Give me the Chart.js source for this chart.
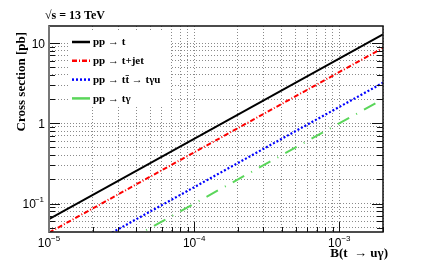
<!DOCTYPE html>
<html>
<head>
<meta charset="utf-8">
<script src="https://cdn.jsdelivr.net/npm/chart.js@4/dist/chart.umd.min.js"></script>
<style>
  html, body { margin: 0; padding: 0; background: #fff; }
  #wrap { width: 426px; height: 263px; }
</style>
</head>
<body>
<div id="wrap"><canvas id="xsec" width="426" height="263"></canvas></div>
<script>
// Branching ratio B(t -> u gamma), end points of each curve
const bValues = [1e-5, 2e-3];

// Cross sections in pb at those end points
const sigmaT = [0.064, 12.8];
const sigmaTJet = [0.0435, 8.7];
const sigmaTTbar = [0.016, 3.2];
const sigmaTGamma = [0.010, 2.0];

const seriesLabels = ['pp \u2192 t', 'pp \u2192 t+jet', 'pp \u2192 tt\u0304 \u2192 t\u03b3u', 'pp \u2192 t\u03b3'];

// Axis ticks
const xMajor = [1e-5, 1e-4, 1e-3];
const xMajorExp = ['\u22125', '\u22124', '\u22123'];
const yMajor = [0.1, 1, 10];
const yMajorBase = ['10', '1', '10'];
const yMajorExp = ['\u22121', '', ''];
const mults = [1, 2, 3, 4, 5, 6, 7, 8, 9];

const xRange = [1e-5, 2e-3];
const yRange = [0.0443, 16.3];

const xTicks = [];
[1e-5, 1e-4, 1e-3].forEach(d => mults.forEach(m => {
  const v = +(m * d).toPrecision(3);
  if (v >= xRange[0] && v <= xRange[1]) xTicks.push(v);
}));
const yTicks = [];
[0.01, 0.1, 1, 10].forEach(d => mults.forEach(m => {
  const v = +(m * d).toPrecision(3);
  if (v >= yRange[0] && v <= yRange[1]) yTicks.push(v);
}));
const isMajor = (v, list) => list.some(m => Math.abs(v / m - 1) < 1e-6);

const SERIF = '"Liberation Serif", "DejaVu Serif", serif';
const SANS = '"Liberation Sans", Arial, sans-serif';

function series(label, values, color, dash, width) {
  return {
    label: label,
    data: bValues.map((b, i) => ({ x: b, y: values[i] })),
    borderColor: color,
    backgroundColor: color,
    borderWidth: width,
    borderDash: dash,
    pointRadius: 0,
    fill: false,
    tension: 0
  };
}

// Frame, inner ticks, tick labels, titles and the boxed legend
const decorations = {
  id: 'decorations',
  afterDatasetsDraw(chart) {
    const ctx = chart.ctx;
    // legend box
    ctx.save();
    ctx.fillStyle = '#fff';
    ctx.fillRect(68, 32, 102, 74);
    chart.data.datasets.forEach((ds, i) => {
      const y = 42 + i * 18.8;
      ctx.beginPath();
      ctx.strokeStyle = ds.borderColor;
      ctx.lineWidth = 2.5;
      ctx.setLineDash(i === 3 ? [] : ds.borderDash);
      ctx.moveTo(72, y);
      ctx.lineTo(90, y);
      ctx.stroke();
      ctx.setLineDash([]);
      ctx.fillStyle = '#000';
      ctx.font = 'bold 11px ' + SERIF;
      ctx.textAlign = 'left';
      ctx.textBaseline = 'middle';
      ctx.fillText(seriesLabels[i], 93, y + 0.5);
    });
    ctx.restore();
  },
  afterDraw(chart) {
    const ctx = chart.ctx;
    const a = chart.chartArea;
    const xs = chart.scales.x, ys = chart.scales.y;
    ctx.save();
    // inner ticks
    ctx.strokeStyle = '#111';
    ctx.lineWidth = 1;
    ctx.beginPath();
    yTicks.forEach(v => {
      const p = Math.round(ys.getPixelForValue(v)) + 0.5;
      const len = isMajor(v, yMajor) ? 11 : 6;
      ctx.moveTo(a.left, p); ctx.lineTo(a.left + len, p);
      ctx.moveTo(a.right, p); ctx.lineTo(a.right - len, p);
    });
    xTicks.forEach(v => {
      const p = Math.round(xs.getPixelForValue(v)) + 0.5;
      const len = isMajor(v, xMajor) ? 10 : 5;
      ctx.moveTo(p, a.bottom); ctx.lineTo(p, a.bottom - len);
    });
    ctx.stroke();
    // frame
    ctx.strokeStyle = '#111';
    ctx.lineWidth = 1.5;
    ctx.strokeRect(a.left, a.top, a.right - a.left, a.bottom - a.top);
    ctx.strokeStyle = '#777';
    ctx.lineWidth = 2;
    ctx.beginPath();
    ctx.moveTo(a.left, a.top); ctx.lineTo(a.left, a.bottom);
    ctx.stroke();

    // tick labels
    ctx.fillStyle = '#000';
    ctx.textBaseline = 'alphabetic';
    yMajor.forEach((v, i) => {
      const p = ys.getPixelForValue(v);
      ctx.font = '8px ' + SANS;
      const ew = yMajorExp[i] ? ctx.measureText(yMajorExp[i]).width : 0;
      ctx.textAlign = 'right';
      ctx.fillText(yMajorExp[i], 44, p - 2);
      ctx.font = '12px ' + SANS;
      ctx.fillText(yMajorBase[i], 45 - ew, p + 4.5);
    });
    xMajor.forEach((v, i) => {
      const p = xs.getPixelForValue(v);
      ctx.font = '12px ' + SANS;
      const bw = ctx.measureText('10').width;
      ctx.font = '8px ' + SANS;
      const ew = ctx.measureText(xMajorExp[i]).width;
      const x0 = p - (bw + ew) / 2;
      ctx.textAlign = 'left';
      ctx.font = '12px ' + SANS;
      ctx.fillText('10', x0, 247);
      ctx.font = '8px ' + SANS;
      ctx.fillText(xMajorExp[i], x0 + bw, 240.5);
    });

    // titles
    ctx.font = 'bold 12px ' + SERIF;
    ctx.textAlign = 'left';
    ctx.fillText('\u221As = 13 TeV', 45, 19);
    ctx.font = 'bold 13px ' + SERIF;
    ctx.textAlign = 'right';
    ctx.fillText('B(t  \u2192 u\u03b3)', 388, 257);
    ctx.translate(25, 32);
    ctx.rotate(-Math.PI / 2);
    ctx.fillText('Cross section [pb]', 0, 0);
    ctx.restore();
  }
};

new Chart(document.getElementById('xsec'), {
  type: 'line',
  data: {
    datasets: [
      series(seriesLabels[0], sigmaT, '#000000', [], 2),
      series(seriesLabels[1], sigmaTJet, '#ff0000', [5, 2, 1, 2], 2),
      series(seriesLabels[2], sigmaTTbar, '#0000ff', [2, 2], 2.2),
      series(seriesLabels[3], sigmaTGamma, '#5ad65a', [13, 8, 1, 8], 2)
    ]
  },
  options: {
    responsive: false,
    animation: false,
    devicePixelRatio: 1,
    layout: { padding: { left: 49, right: 43, top: 26, bottom: 31 } },
    plugins: { legend: { display: false }, tooltip: { enabled: false } },
    scales: {
      x: {
        type: 'logarithmic',
        min: xRange[0], max: xRange[1],
        afterBuildTicks: s => { s.ticks = xTicks.map(v => ({ value: v })); },
        afterFit: s => { s.height = 0; },
        ticks: { display: false },
        grid: { color: '#8a8a8a', lineWidth: 1, drawTicks: false },
        border: { display: false, dash: [1, 2] }
      },
      y: {
        type: 'logarithmic',
        min: yRange[0], max: yRange[1],
        afterBuildTicks: s => { s.ticks = yTicks.map(v => ({ value: v })); },
        afterFit: s => { s.width = 0; },
        ticks: { display: false },
        grid: { color: '#8a8a8a', lineWidth: 1, drawTicks: false },
        border: { display: false, dash: [1, 2] }
      }
    }
  },
  plugins: [decorations]
});
</script>
</body>
</html>
